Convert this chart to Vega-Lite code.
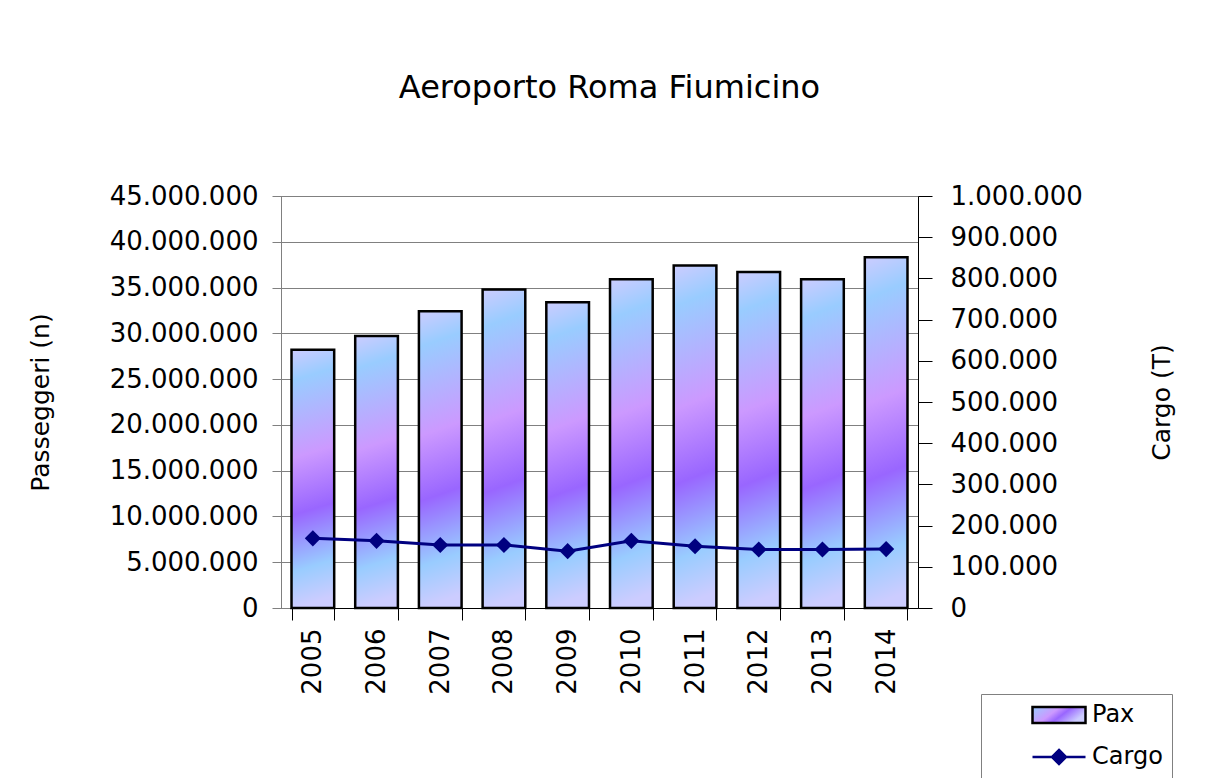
{
  "$schema": "https://vega.github.io/schema/vega-lite/v6.json",
  "width": 637,
  "height": 412,
  "autosize": "none",
  "padding": {"left": 281, "top": 196, "right": 306, "bottom": 170},
  "background": "white",
  "title": {"text": "Aeroporto Roma Fiumicino", "fontSize": 32, "fontWeight": "normal", "anchor": "middle", "frame": "group", "baseline": "alphabetic", "offset": 53, "dx": 10, "color": "black"},
  "data": {"values": [
    {"year": "2005", "pax": 28200000, "cargo": 169000},
    {"year": "2006", "pax": 29700000, "cargo": 163000},
    {"year": "2007", "pax": 32400000, "cargo": 153000},
    {"year": "2008", "pax": 34800000, "cargo": 153000},
    {"year": "2009", "pax": 33400000, "cargo": 138000},
    {"year": "2010", "pax": 35900000, "cargo": 163000},
    {"year": "2011", "pax": 37400000, "cargo": 150000},
    {"year": "2012", "pax": 36700000, "cargo": 142000},
    {"year": "2013", "pax": 35900000, "cargo": 142000},
    {"year": "2014", "pax": 38300000, "cargo": 143000}
  ]},
  "encoding": {
    "x": {"field": "year", "type": "ordinal",
      "scale": {"paddingInner": 0.33, "paddingOuter": 0.165},
      "axis": {"title": null, "labelAngle": 270, "labelFontSize": 26, "labelColor": "black", "tickBand": "extent", "tickSize": 12, "tickColor": "black", "domainColor": "black", "domainWidth": 1, "labelPadding": 8, "grid": false}}
  },
  "layer": [
    {
      "mark": {"type": "bar", "strokeWidth": 2.5, "fill": {"gradient": "linear", "x1": 0, "y1": 0, "x2": 0.05, "y2": 1, "stops": [
              {"offset": 0, "color": "#ccccff"},
              {"offset": 0.12, "color": "#99ccff"},
              {"offset": 0.42, "color": "#cc99ff"},
              {"offset": 0.64, "color": "#9966ff"},
              {"offset": 0.86, "color": "#99ccff"},
              {"offset": 1, "color": "#ccccff"}]}},
      "encoding": {
        "y": {"field": "pax", "type": "quantitative",
          "scale": {"domain": [0, 45000000], "nice": false},
          "axis": {"title": "Passeggeri (n)", "titleFontSize": 25, "titleFontWeight": "normal", "titleColor": "black", "titlePadding": 56,
            "labelFontSize": 26, "labelColor": "black", "format": ",.0f", "tickCount": 9,
            "domain": false, "tickSize": 18, "offset": -9, "tickColor": "#808080", "labelPadding": 14,
            "grid": true, "gridColor": "#808080", "gridWidth": 1, "gridOpacity": 1}},
        "stroke": {"datum": "Pax", "type": "nominal",
          "scale": {"domain": ["Pax", "Cargo"], "range": ["black", "#000080"]},
          "legend": {
            "orient": "none", "legendX": 700, "legendY": 498, "title": null,
            "labelFontSize": 24, "labelColor": "black",
            "symbolSize": 400, "symbolStrokeWidth": 2.5, "labelOffset": 21, "symbolOffset": 57,
            "padding": 9, "rowPadding": 17, "strokeColor": "#808080",
            "labelExpr": "datum.label + '\u00a0\u00a0\u00a0\u00a0\u00a0'",
            "encoding": {"symbols": {
              "shape": {"value": {"signal": "datum.value === 'Pax' ? 'M-2.65,-0.8H2.65V0.8H-2.65Z' : 'M-2.65,0H2.65M0,-0.7L0.7,0L0,0.7L-0.7,0Z'"}},
              "stroke": {"value": {"signal": "datum.value === 'Pax' ? 'black' : '#000080'"}},
              "fill": {"value": {"signal": "datum.value === 'Pax' ? {gradient: 'linear', x1: 0, y1: 0, x2: 1, y2: 0.4, stops: [{offset: 0, color: '#99ccff'}, {offset: 0.45, color: '#cc99ff'}, {offset: 0.65, color: '#9966ff'}, {offset: 1, color: '#ccccff'}]} : '#000080'"}},
              "opacity": {"value": 1},
              "fillOpacity": {"value": 1},
              "strokeWidth": {"value": 2.5}
            }}
          }}
      }
    },
    {
      "layer": [
        {
          "mark": {"type": "line", "color": "#000080", "strokeWidth": 3},
          "encoding": {
            "y": {"field": "cargo", "type": "quantitative",
              "scale": {"domain": [0, 1000000], "nice": false},
              "axis": {"orient": "right", "title": "Cargo (T)", "titleAngle": 270, "titleFontSize": 25, "titleFontWeight": "normal", "titleColor": "black", "titlePadding": 92,
                "labelFontSize": 26, "labelColor": "black", "format": ",.0f", "tickCount": 10,
                "domainColor": "black", "tickColor": "black", "tickSize": 14, "labelPadding": 18, "grid": false}}
          }
        },
        {
          "mark": {"type": "point", "shape": "diamond", "filled": true, "fill": "#000080", "size": 260, "opacity": 1},
          "encoding": {
            "y": {"field": "cargo", "type": "quantitative"}
          }
        }
      ]
    }
  ],
  "resolve": {"scale": {"y": "independent"}},
  "config": {
    "font": "DejaVu Sans",
    "view": {"stroke": "#808080", "strokeWidth": 1},
    "locale": {"number": {"decimal": ",", "thousands": ".", "grouping": [3], "currency": ["", " €"]}}
  }
}
